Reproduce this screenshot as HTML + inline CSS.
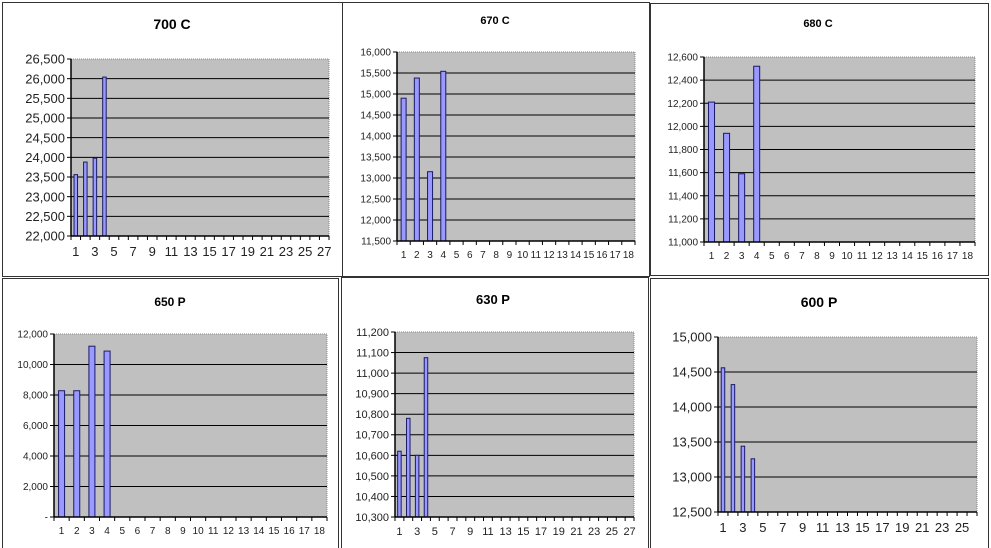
<!DOCTYPE html>
<html><head><meta charset="utf-8"><style>
html,body{margin:0;padding:0;background:#fff;width:991px;height:548px;overflow:hidden}
svg{display:block;font-family:"Liberation Sans",Arial,sans-serif}
</style></head><body>
<svg id="s" width="991" height="548" xmlns="http://www.w3.org/2000/svg"></svg>
<script>
var C=[
{f:[2,2,340,274],t:"700 C",tx:172,ty:29,ts:14,x0:71,x1:329,y0:59,y1:236,mn:22000,mx:26500,st:500,n:27,odd:true,v:[23560,23880,23980,26040],bw:3.5,fs:13,dash:false},
{f:[342,2,307,274],t:"670 C",tx:495,ty:24,ts:11,x0:397,x1:635,y0:52,y1:241,mn:11500,mx:16000,st:500,n:18,odd:false,v:[14900,15380,13150,15540],bw:5,fs:10},
{f:[650,3,338,272],t:"680 C",tx:818,ty:27,ts:11,x0:704,x1:975,y0:57,y1:242,mn:11000,mx:12600,st:200,n:18,odd:false,v:[12210,11940,11590,12520],bw:6,fs:10},
{f:[2,278,336,270],t:"650 P",tx:170,ty:306,ts:12,x0:54,x1:327,y0:334,y1:517,mn:0,mx:12000,st:2000,n:18,odd:false,v:[8280,8280,11200,10880],bw:6,fs:10,zero:true},
{f:[341,277,307,271],t:"630 P",tx:493,ty:304,ts:13,x0:395,x1:634,y0:332,y1:517,mn:10300,mx:11200,st:100,n:27,odd:true,v:[10620,10780,10600,11075],bw:3.5,fs:11},
{f:[650,278,338,270],t:"600 P",tx:819,ty:307,ts:14,x0:718,x1:977,y0:337,y1:512,mn:12500,mx:15000,st:500,n:26,odd:true,v:[14560,14320,13440,13260],bw:3.5,fs:13}
];
var h='';
function fmt(v){return v.toString().replace(/\B(?=(\d{3})+(?!\d))/g,",");}
C.forEach(function(c){
 h+='<rect x="'+c.f[0]+'.5" y="'+c.f[1]+'.5" width="'+c.f[2]+'" height="'+c.f[3]+'" fill="#fff" stroke="#333" stroke-width="1"/>';
 h+='<text x="'+c.tx+'" y="'+c.ty+'" font-size="'+c.ts+'" font-weight="bold" text-anchor="middle" fill="#000">'+c.t+'</text>';
 var W=c.x1-c.x0,H=c.y1-c.y0;
 h+='<rect x="'+c.x0+'" y="'+c.y0+'" width="'+W+'" height="'+H+'" fill="#c0c0c0" stroke="#888" stroke-dasharray="1,1"/>';
 var k=Math.round((c.mx-c.mn)/c.st);
 for(var i=0;i<=k;i++){
  var y=c.y1-H*i/k, val=c.mn+i*c.st;
  if(i>0&&i<k) h+='<line x1="'+c.x0+'" x2="'+c.x1+'" y1="'+y+'" y2="'+y+'" stroke="#000" stroke-width="1"/>';
  h+='<line x1="'+(c.x0-4)+'" x2="'+c.x0+'" y1="'+y+'" y2="'+y+'" stroke="#000"/>';
  h+='<text x="'+(c.x0-6)+'" y="'+(y+c.fs*0.36)+'" font-size="'+c.fs+'" text-anchor="end" fill="#222">'+((c.zero&&val==0)?'-':fmt(val))+'</text>';
 }
 var cw=W/c.n;
 for(var j=0;j<=c.n;j++){var x=c.x0+cw*j;h+='<line x1="'+x+'" x2="'+x+'" y1="'+c.y1+'" y2="'+(c.y1+4)+'" stroke="#000"/>';}
 for(var j=0;j<c.n;j++){
  if(c.odd&&j%2==1)continue;
  var x=c.x0+cw*(j+0.5);
  h+='<text x="'+x+'" y="'+(c.y1+c.fs+7)+'" font-size="'+c.fs+'" text-anchor="middle" fill="#222">'+(j+1)+'</text>';
 }
 c.v.forEach(function(v,j){
  var x=c.x0+cw*(j+0.5)-c.bw/2, y=c.y1-H*(v-c.mn)/(c.mx-c.mn);
  h+='<rect x="'+x+'" y="'+y+'" width="'+c.bw+'" height="'+(c.y1-y)+'" fill="#9999ff" stroke="#1a1a66" stroke-width="1"/>';
 });
 h+='<line x1="'+c.x0+'" x2="'+c.x0+'" y1="'+c.y0+'" y2="'+c.y1+'" stroke="#000" stroke-width="1.5"/>';
 h+='<line x1="'+c.x0+'" x2="'+c.x1+'" y1="'+c.y1+'" y2="'+c.y1+'" stroke="#000" stroke-width="1.5"/>';
});
document.getElementById('s').innerHTML=h;
</script>
</body></html>
